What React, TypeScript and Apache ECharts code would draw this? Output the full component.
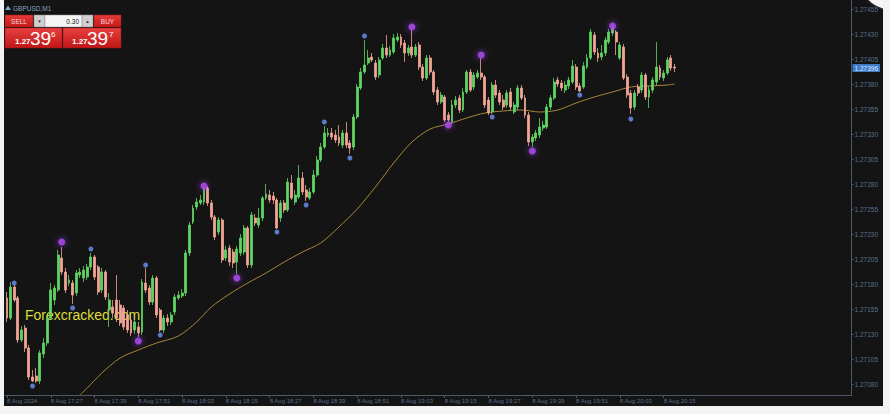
import React, { useEffect, useRef } from "react";
import * as echarts from "echarts";

const symbolName = "GBPUSD,M1";
const watermark = "Forexcracked.com";
const tickLabels = ["8 Aug 2024", "8 Aug 17:27", "8 Aug 17:39", "8 Aug 17:51", "8 Aug 18:03", "8 Aug 18:15", "8 Aug 18:27", "8 Aug 18:39", "8 Aug 18:51", "8 Aug 19:03", "8 Aug 19:15", "8 Aug 19:27", "8 Aug 19:39", "8 Aug 19:51", "8 Aug 20:03", "8 Aug 20:15"];
const priceTicks = [1.2708, 1.27105, 1.2713, 1.27155, 1.2718, 1.27205, 1.2723, 1.27255, 1.2728, 1.27305, 1.2733, 1.27355, 1.2738, 1.27405, 1.2743, 1.27455];
const lastPrice = 1.27396;
const priceMin = 1.27069;
const priceMax = 1.27464;

const opens = [1.27166,1.27146,1.27177,1.27166,1.27124,1.27136,1.27116,1.27087,1.27088,1.27083,
1.27110,1.27121,1.27146,1.27164,1.27174,1.27206,1.27192,1.27181,1.27181,1.27171,
1.27189,1.27186,1.27187,1.27197,1.27207,1.27197,1.27174,1.27192,1.27154,1.27157,
1.27164,1.27159,1.27156,1.27149,1.27144,1.27134,1.27137,1.27132,1.27181,1.27176,
1.27162,1.27186,1.27154,1.27134,1.27146,1.27142,1.27152,1.27166,1.27168,1.27171,
1.27211,1.27242,1.27257,1.27261,1.27262,1.27276,1.27261,1.27247,1.27232,1.27244,
1.27206,1.27216,1.27212,1.27202,1.27211,1.27212,1.27236,1.27199,1.27246,1.27239,
1.27246,1.27266,1.27269,1.27268,1.27264,1.27246,1.27261,1.27254,1.27281,1.27262,
1.27267,1.27286,1.27274,1.27266,1.27272,1.27289,1.27304,1.27317,1.27329,1.27331,
1.27329,1.27327,1.27319,1.27331,1.27321,1.27317,1.27347,1.27376,1.27392,1.27401,
1.27407,1.27401,1.27389,1.27406,1.27416,1.27409,1.27412,1.27424,1.27427,1.27421,
1.27411,1.27417,1.27409,1.27419,1.27397,1.27386,1.27406,1.27392,1.27374,1.27362,
1.27367,1.27349,1.27342,1.27359,1.27366,1.27354,1.27372,1.27392,1.27377,1.27387,
1.27391,1.27387,1.27364,1.27352,1.27379,1.27371,1.27364,1.27359,1.27372,1.27352,
1.27357,1.27376,1.27366,1.27349,1.27322,1.27326,1.27329,1.27336,1.27337,1.27357,
1.27366,1.27384,1.27381,1.27374,1.27378,1.27382,1.27397,1.27378,1.27377,1.27397,
1.27406,1.27429,1.27411,1.27407,1.27411,1.27422,1.27431,1.27432,1.27406,1.27417,
1.27387,1.27371,1.27357,1.27377,1.27374,1.27389,1.27367,1.27374,1.27382,1.27396,
1.27386,1.27391,1.27406,1.27397];

const closes = [1.27146,1.27177,1.27164,1.27124,1.27134,1.27116,1.27087,1.27083,1.27083,1.27111,
1.27121,1.27146,1.27174,1.27176,1.27209,1.27192,1.27174,1.27184,1.27169,1.27191,
1.27192,1.27194,1.27197,1.27207,1.27187,1.27172,1.27192,1.27167,1.27164,1.27151,
1.27146,1.27141,1.27137,1.27134,1.27131,1.27142,1.27131,1.27182,1.27174,1.27162,
1.27186,1.27149,1.27134,1.27146,1.27142,1.27149,1.27167,1.27169,1.27171,1.27211,
1.27239,1.27256,1.27262,1.27264,1.27276,1.27261,1.27247,1.27227,1.27244,1.27204,
1.27214,1.27202,1.27201,1.27215,1.27226,1.27236,1.27199,1.27249,1.27241,1.27246,
1.27266,1.27270,1.27264,1.27264,1.27236,1.27261,1.27254,1.27282,1.27266,1.27269,
1.27286,1.27272,1.27267,1.27272,1.27289,1.27304,1.27317,1.27331,1.27331,1.27327,
1.27324,1.27321,1.27331,1.27319,1.27316,1.27347,1.27377,1.27392,1.27399,1.27406,
1.27404,1.27387,1.27404,1.27416,1.27409,1.27414,1.27426,1.27427,1.27419,1.27411,
1.27416,1.27409,1.27417,1.27397,1.27386,1.27406,1.27392,1.27372,1.27362,1.27369,
1.27344,1.27344,1.27359,1.27364,1.27354,1.27372,1.27392,1.27374,1.27389,1.27391,
1.27387,1.27359,1.27351,1.27379,1.27369,1.27362,1.27357,1.27371,1.27357,1.27359,
1.27376,1.27366,1.27349,1.27322,1.27327,1.27331,1.27337,1.27339,1.27357,1.27366,
1.27382,1.27380,1.27376,1.27379,1.27384,1.27398,1.27377,1.27373,1.27398,1.27406,
1.27432,1.27412,1.27406,1.27411,1.27424,1.27432,1.27436,1.27422,1.27419,1.27386,
1.27369,1.27356,1.27371,1.27371,1.27389,1.27367,1.27374,1.27384,1.27397,1.27387,
1.27391,1.27404,1.27396,1.27396];

const highs = [1.27172,1.27182,1.27179,1.27168,1.27138,1.27139,1.27119,1.27094,1.27096,1.27114,
1.27126,1.27149,1.27181,1.27179,1.27214,1.27217,1.27196,1.27189,1.27184,1.27194,
1.27196,1.27198,1.27200,1.27211,1.27209,1.27199,1.27196,1.27194,1.27171,1.27164,
1.27189,1.27164,1.27159,1.27154,1.27149,1.27146,1.27142,1.27185,1.27196,1.27179,
1.27189,1.27188,1.27156,1.27149,1.27150,1.27152,1.27170,1.27173,1.27175,1.27214,
1.27242,1.27259,1.27266,1.27269,1.27277,1.27278,1.27264,1.27249,1.27247,1.27246,
1.27218,1.27219,1.27215,1.27218,1.27230,1.27239,1.27238,1.27252,1.27250,1.27256,
1.27268,1.27280,1.27274,1.27272,1.27266,1.27264,1.27264,1.27286,1.27289,1.27274,
1.27299,1.27292,1.27279,1.27276,1.27294,1.27308,1.27321,1.27338,1.27336,1.27336,
1.27334,1.27339,1.27334,1.27342,1.27324,1.27350,1.27380,1.27396,1.27424,1.27414,
1.27411,1.27404,1.27407,1.27420,1.27429,1.27418,1.27430,1.27431,1.27430,1.27424,
1.27419,1.27434,1.27420,1.27422,1.27400,1.27409,1.27409,1.27394,1.27377,1.27372,
1.27369,1.27352,1.27364,1.27368,1.27369,1.27376,1.27394,1.27395,1.27392,1.27394,
1.27406,1.27389,1.27367,1.27382,1.27384,1.27374,1.27369,1.27374,1.27376,1.27362,
1.27379,1.27379,1.27369,1.27352,1.27330,1.27334,1.27346,1.27343,1.27360,1.27369,
1.27386,1.27387,1.27384,1.27383,1.27387,1.27404,1.27400,1.27381,1.27402,1.27410,
1.27435,1.27432,1.27416,1.27419,1.27427,1.27435,1.27439,1.27434,1.27422,1.27420,
1.27390,1.27374,1.27374,1.27380,1.27392,1.27391,1.27378,1.27387,1.27422,1.27399,
1.27394,1.27407,1.27409,1.27400];

const lows = [1.27142,1.27144,1.27162,1.27121,1.27122,1.27112,1.27084,1.27082,1.27081,1.27080,
1.27106,1.27118,1.27144,1.27159,1.27172,1.27189,1.27171,1.27178,1.27160,1.27168,
1.27186,1.27182,1.27184,1.27194,1.27184,1.27169,1.27171,1.27164,1.27137,1.27146,
1.27142,1.27138,1.27134,1.27131,1.27128,1.27130,1.27127,1.27129,1.27171,1.27159,
1.27159,1.27146,1.27132,1.27131,1.27138,1.27139,1.27149,1.27164,1.27166,1.27168,
1.27208,1.27240,1.27254,1.27259,1.27259,1.27258,1.27244,1.27224,1.27229,1.27201,
1.27203,1.27198,1.27196,1.27190,1.27208,1.27209,1.27196,1.27196,1.27238,1.27236,
1.27243,1.27264,1.27261,1.27260,1.27235,1.27242,1.27251,1.27252,1.27264,1.27259,
1.27265,1.27269,1.27263,1.27264,1.27270,1.27287,1.27302,1.27315,1.27327,1.27324,
1.27321,1.27318,1.27316,1.27316,1.27310,1.27314,1.27345,1.27374,1.27390,1.27399,
1.27402,1.27384,1.27386,1.27404,1.27406,1.27407,1.27410,1.27422,1.27416,1.27402,
1.27408,1.27406,1.27407,1.27394,1.27383,1.27384,1.27389,1.27369,1.27359,1.27360,
1.27342,1.27342,1.27340,1.27356,1.27351,1.27352,1.27370,1.27372,1.27374,1.27385,
1.27384,1.27356,1.27349,1.27350,1.27366,1.27359,1.27354,1.27356,1.27354,1.27350,
1.27354,1.27364,1.27346,1.27318,1.27317,1.27323,1.27326,1.27333,1.27335,1.27354,
1.27364,1.27377,1.27373,1.27371,1.27375,1.27380,1.27374,1.27372,1.27375,1.27395,
1.27404,1.27409,1.27402,1.27404,1.27408,1.27420,1.27428,1.27409,1.27404,1.27384,
1.27366,1.27350,1.27354,1.27368,1.27371,1.27364,1.27356,1.27371,1.27379,1.27384,
1.27383,1.27389,1.27393,1.27392];

// [bar index, price] of the indicator dots
const blueDots = [[2,1.27181],[7,1.27078],[18,1.27156],[23,1.27215],[38,1.27199],[42,1.27129],[74,1.27232],[82,1.27259],[87,1.27342],[94,1.27306],[98,1.27428],[133,1.27347],[157,1.27369],[171,1.27345]];
const purpleDots = [[15,1.27222],[36,1.27123],[54,1.27278],[63,1.27186],[111,1.27437],[121,1.27339],[130,1.27409],[144,1.27313],[166,1.27438]];
// moving average read at points [bar index, price]
const maPoints = [[20,1.27069],[22,1.27076],[26,1.27091],[31,1.27106],[36,1.27114],[41,1.27121],[47,1.27128],[52,1.27142],[56,1.27157],[61,1.27170],[66,1.27181],[71,1.27191],[76,1.27202],[81,1.27212],[86,1.27221],[91,1.27237],[96,1.27255],[101,1.27277],[106,1.27301],[111,1.27322],[116,1.27335],[121,1.27340],[126,1.27346],[131,1.27351],[136,1.27353],[141,1.27354],[146,1.27352],[151,1.27354],[156,1.27361],[161,1.27367],[166,1.27372],[171,1.27377],[176,1.27378],[181,1.27379],[183,1.27380]];

const SLOTS = 232;

export default function App() {
  const ref = useRef<HTMLDivElement>(null);
  useEffect(() => {
    document.body.style.margin = "0";
    const chart = echarts.init(ref.current!, null, { renderer: "svg" });
    const categories = Array.from({ length: SLOTS }, (_, i) => {
      const m = 17 * 60 + 15 + i;
      return `${Math.floor(m / 60)}:${String(m % 60).padStart(2, "0")}`;
    });
    const fnt = "'Liberation Sans', Arial, sans-serif";
    const axisCol = "#4c5864";
    const labCol = "#56708f";
    const labelInterval = (idx: number) => idx % 12 === 0 && idx / 12 < tickLabels.length;
    const red = new echarts.graphic.LinearGradient(0, 0, 0, 1, [
      { offset: 0, color: "#e63a3a" },
      { offset: 1, color: "#c41a1a" },
    ]);
    const red2 = new echarts.graphic.LinearGradient(0, 0, 0, 1, [
      { offset: 0, color: "#e84040" },
      { offset: 1, color: "#bf1616" },
    ]);
    const txt = (text: string, x: number, y: number, size: number, fill: string, align = "left", weight = "normal", va = "middle") => ({
      type: "text",
      style: { text, x, y, fill, fontSize: size, fontFamily: fnt, fontWeight: weight, textAlign: align, textVerticalAlign: va },
    });
    chart.setOption({
      animation: false,
      backgroundColor: "#141414",
      grid: { left: -1.3, top: 0, width: 853.8, height: 395 },
      xAxis: {
        type: "category",
        data: categories,
        boundaryGap: true,
        axisLine: { lineStyle: { color: axisCol, width: 1 } },
        axisTick: { show: true, alignWithLabel: true, length: 3, interval: labelInterval, lineStyle: { color: axisCol } },
        axisLabel: {
          interval: labelInterval,
          formatter: (_v: string, i: number) => tickLabels[i / 12] ?? "",
          color: labCol,
          fontSize: 6,
          fontFamily: fnt,
          align: "left",
          margin: 3,
        },
        splitLine: { show: false },
      },
      yAxis: [
        {
          type: "value",
          position: "right",
          min: priceMin,
          max: priceMax,
          axisLine: { show: true, lineStyle: { color: axisCol } },
          axisTick: { show: true, customValues: priceTicks, length: 2, lineStyle: { color: axisCol } },
          axisLabel: {
            customValues: priceTicks,
            formatter: (v: number) => v.toFixed(5),
            color: labCol,
            fontSize: 6.5,
            fontFamily: fnt,
            margin: 3,
          },
          splitLine: { show: false },
        },
        {
          type: "value",
          position: "right",
          min: priceMin,
          max: priceMax,
          axisLine: { show: false },
          axisTick: { show: false },
          axisLabel: {
            customValues: [lastPrice],
            formatter: (v: number) => v.toFixed(5),
            color: "#dbe8ff",
            backgroundColor: "#3f7cc8",
            padding: [1, 2, 0, 2],
            fontSize: 6.5,
            fontFamily: fnt,
            margin: 1,
          },
          splitLine: { show: false },
        },
      ],
      series: [
        {
          type: "line",
          data: maPoints,
          showSymbol: false,
          smooth: 0.3,
          lineStyle: { color: "#a88838", width: 1 },
          z: 1,
          silent: true,
        },
        {
          type: "candlestick",
          data: opens.map((o, i) => [o, closes[i], lows[i], highs[i]]),
          barWidth: 2.4,
          itemStyle: {
            color: "#5fd462",
            color0: "#f2a496",
            borderColor: "#5fd462",
            borderColor0: "#f2a496",
            borderWidth: 0.8,
          },
          z: 2,
        },
        {
          type: "scatter",
          data: blueDots,
          symbolSize: 5,
          itemStyle: { color: "#6f90f7" },
          z: 3,
        },
        {
          type: "scatter",
          data: purpleDots,
          symbolSize: 7,
          itemStyle: { color: "#b24cf2", shadowBlur: 6, shadowColor: "#a040ff" },
          z: 3,
        },
      ],
      graphic: [
        {
          type: "group",
          x: -4,
          y: 0,
          children: [
            {
              type: "circle",
              shape: { cx: 890, cy: -20, r: 30 },
              style: { fill: "#f6f6f6", stroke: "#2a2a2a", lineWidth: 1.5 },
            },
            { type: "polygon", shape: { points: [[5, 10], [8, 5.5], [11, 10]] }, style: { fill: "#7fa2cc" } },
            txt(symbolName, 13, 8, 6.5, "#8aa2c2"),
            { type: "rect", shape: { x: 5, y: 15, width: 28, height: 12 }, style: { fill: red, stroke: "#9a1515", lineWidth: 0.5 } },
            txt("SELL", 19, 21.5, 6.5, "#f6d8d8", "center"),
            { type: "rect", shape: { x: 34, y: 15, width: 11, height: 12 }, style: { fill: "#cfcfcf", stroke: "#8a8a8a", lineWidth: 0.5 } },
            txt("\u25BC", 39.5, 21.5, 4.5, "#333", "center"),
            { type: "rect", shape: { x: 45, y: 15, width: 37, height: 12 }, style: { fill: "#f5f5f5", stroke: "#8a8a8a", lineWidth: 0.5 } },
            txt("0.30", 79, 21.5, 6.5, "#222", "right"),
            { type: "rect", shape: { x: 82, y: 15, width: 11, height: 12 }, style: { fill: "#cfcfcf", stroke: "#8a8a8a", lineWidth: 0.5 } },
            txt("\u25B2", 87.5, 21.5, 4.5, "#333", "center"),
            { type: "rect", shape: { x: 94, y: 15, width: 27, height: 12 }, style: { fill: red, stroke: "#9a1515", lineWidth: 0.5 } },
            txt("BUY", 107.5, 21.5, 6.5, "#f6d8d8", "center"),
            { type: "rect", shape: { x: 5, y: 28, width: 57, height: 20 }, style: { fill: red2, stroke: "#9a1515", lineWidth: 0.5 } },
            { type: "rect", shape: { x: 63, y: 28, width: 58, height: 20 }, style: { fill: red2, stroke: "#9a1515", lineWidth: 0.5 } },
            txt("1.27", 15, 45, 8, "#ffffff", "left", "bold", "bottom"),
            txt("39", 30, 47.5, 19, "#ffffff", "left", "normal", "bottom"),
            txt("6", 51, 34, 8, "#ffffff", "left", "normal", "middle"),
            txt("1.27", 72, 45, 8, "#ffffff", "left", "bold", "bottom"),
            txt("39", 87, 47.5, 19, "#ffffff", "left", "normal", "bottom"),
            txt("7", 109, 34, 8, "#ffffff", "left", "normal", "middle"),
            txt(watermark, 25, 315, 14, "#dede3c", "left", "normal", "middle"),
          ],
        },
      ],
    });
    return () => chart.dispose();
  }, []);
  return (
    <div style={{ width: 890, height: 414, background: "#f3f3f3", position: "relative", overflow: "hidden" }}>
      <div ref={ref} style={{ position: "absolute", left: 4, top: 0, width: 879, height: 406 }} />
    </div>
  );
}
